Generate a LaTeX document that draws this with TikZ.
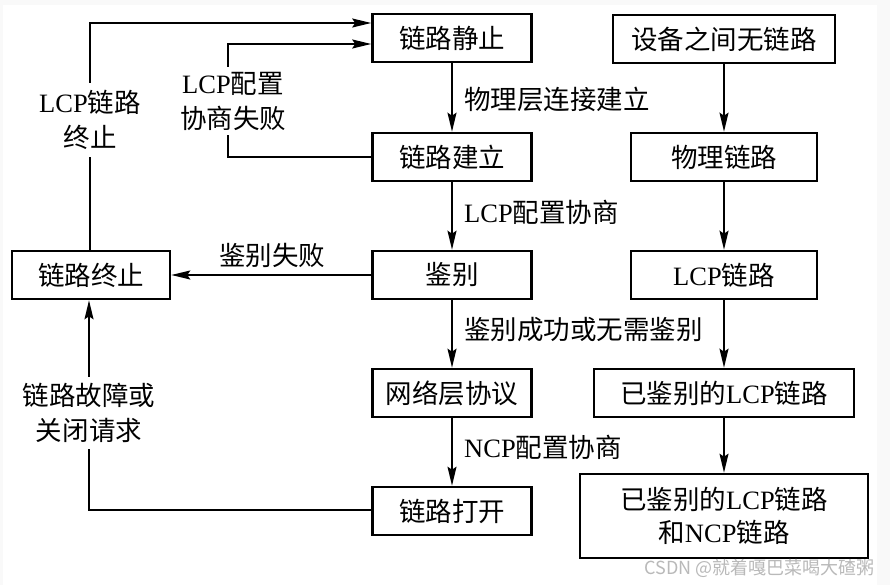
\documentclass[tikz,border=0pt]{standalone}
\usepackage{fontspec}
\setmainfont{Noto Sans CJK SC}
\newfontfamily\latin{Liberation Serif}
\usetikzlibrary{arrows.meta}
\newcommand{\la}[1]{{\latin #1}}
\begin{document}
\begin{tikzpicture}[x=1pt,y=-1pt,
  box/.style={draw,line width=2.6pt,inner sep=0pt,minimum height=48pt,align=center,font=\fontsize{26.5}{33}\selectfont},
  lab/.style={inner sep=0pt,align=center,font=\fontsize{26.5}{35}\selectfont},
  gap/.style={inner sep=0pt,fill=white,align=center,font=\fontsize{26.5}{35}\selectfont},
  conn/.style={line width=1.8pt,-{Stealth[length=19pt,width=9pt,inset=3pt]}},
  plain/.style={line width=1.8pt}]
\fill[gray!5] (0,0) rectangle (890,585);
\fill[white] (3,5) rectangle (877,585);
\useasboundingbox (0,0) rectangle (890,585);
% left column
\node[box,minimum width=159pt] (quiet) at (452,38) {链路静止};
\node[box,minimum width=159pt] (est) at (452,157) {链路建立};
\node[box,minimum width=159pt] (auth) at (452,275) {鉴别};
\node[box,minimum width=159pt] (net) at (452,393) {网络层协议};
\node[box,minimum width=159pt] (open) at (452,511) {链路打开};
\node[box,minimum width=158pt] (term) at (91,275) {链路终止};
% right column
\node[box,minimum width=222pt] (none) at (724,39) {设备之间无链路};
\node[box,minimum width=186pt] (phys) at (724,157) {物理链路};
\node[box,minimum width=186pt] (lcp) at (724,275) {\la{LCP}链路};
\node[box,minimum width=260pt] (alcp) at (724,393) {已鉴别的\la{LCP}链路};
\node[box,minimum width=288pt,minimum height=84pt] (ancp) at (724,516) {已鉴别的\la{LCP}链路\\和\la{NCP}链路};
% vertical arrows
\draw[conn] (quiet) -- (est);
\draw[conn] (est) -- (auth);
\draw[conn] (auth) -- (net);
\draw[conn] (net) -- (open);
\draw[conn] (none) -- (phys);
\draw[conn] (phys) -- (lcp);
\draw[conn] (lcp) -- (alcp);
\draw[conn] (alcp) -- (ancp);
% arrow labels
\node[lab,anchor=west] (l1) at (464,99) {物理层连接建立};
\node[lab,anchor=west] (l2) at (464,212) {\la{LCP}配置协商};
\node[lab,anchor=west] (l3) at (464,330) {鉴别成功或无需鉴别};
\node[lab,anchor=west] (l4) at (464,447) {\la{NCP}配置协商};
% feedback loops
\coordinate (c1) at (90,23);
\draw[conn] (term.north -| c1) |- (quiet.west |- c1);
\node[gap,minimum height=74pt,minimum width=110pt] (g1) at (90,120) {\la{LCP}链路\\终止};
\coordinate (c2) at (228,44);
\draw[conn] (est.west) -| (c2) -- (quiet.west |- c2);
\node[gap,minimum height=68pt,minimum width=112pt] (g2) at (233,101) {\la{LCP}配置\\协商失败};
\draw[conn] (auth.west) -- (term.east);
\node[lab] (g3) at (272,255) {鉴别失败};
\coordinate (c3) at (89,510);
\draw[conn] (open.west |- c3) -| (term.south -| c3);
\node[gap,minimum height=72pt,minimum width=136pt] (g4) at (89,413) {链路故障或\\关闭请求};
% watermark
\node[inner sep=0pt,anchor=east,text=gray!55,font=\fontsize{18}{20}\selectfont] (wm) at (875,568) {CSDN @就着嘎巴菜喝大碴粥};
\end{tikzpicture}
\end{document}
